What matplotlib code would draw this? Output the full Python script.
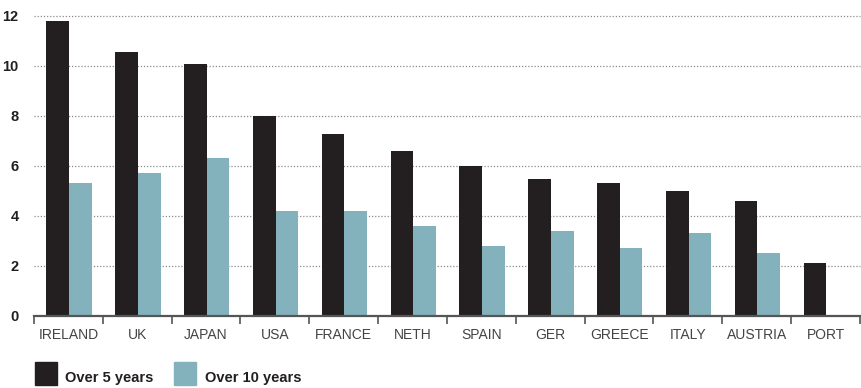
import numpy as np
import matplotlib.pyplot as plt
from matplotlib.patches import Rectangle

countries = ["IRELAND", "UK", "JAPAN", "USA", "FRANCE", "NETH", "SPAIN",
             "GER", "GREECE", "ITALY", "AUSTRIA", "PORT"]
over5 = [11.8, 10.55, 10.05, 8.0, 7.25, 6.6, 6.0, 5.45, 5.3, 5.0, 4.6, 2.1]
over10 = [5.3, 5.7, 6.3, 4.2, 4.2, 3.6, 2.8, 3.4, 2.7, 3.3, 2.5, np.nan]

black = "#231f20"
blue = "#83b1bc"

plt.rcParams["font.family"] = ["Liberation Sans", "DejaVu Sans"]

fig = plt.figure(figsize=(8.62, 3.88), dpi=100)
ax = fig.add_axes([34 / 862, 1 - 315.7 / 388, 826 / 862, 300 / 388])

x = np.arange(len(countries))
w = 0.33
ax.bar(x - w / 2 + 0.01, over5, w, color=black, zorder=3)
ax.bar(x + w / 2 + 0.01, over10, w, color=blue, zorder=3)

ax.set_xlim(-0.5, len(countries) - 0.5)
ax.set_ylim(0, 12)
ax.set_yticks(range(0, 13, 2))
ax.set_yticklabels([str(v) for v in range(0, 13, 2)], fontweight="bold",
                   fontsize=10.5, color=black)
for v in range(2, 13, 2):
    ax.axhline(v, color="#8a8a8a", lw=0.9, ls=(0, (1, 1.5)), zorder=1, clip_on=False)

ax.set_xticks(x)
ax.set_xticklabels(countries, fontsize=10, color="#444444")
ax.set_xticks(np.arange(-0.5, len(countries)), minor=True)
ax.tick_params(axis="x", which="major", length=0, pad=9)
ax.tick_params(axis="x", which="minor", length=6, width=1.2, color="#555555")
ax.tick_params(axis="y", length=0, pad=11)

for s in ["top", "right", "left"]:
    ax.spines[s].set_visible(False)
ax.spines["bottom"].set_color("#555555")
ax.spines["bottom"].set_linewidth(1.6)
ax.spines["bottom"].set_zorder(4)

# legend
for x0, col, label, tx in [(35, black, "Over 5 years", 65), (174, blue, "Over 10 years", 205)]:
    fig.patches.append(Rectangle((x0 / 862, 1 - 385 / 388), 22 / 862, 23 / 388,
                                 transform=fig.transFigure, color=col))
    fig.text(tx / 862, 1 - 385 / 388, label, fontsize=10.5, fontweight="bold",
             color=black, va="bottom", ha="left")

fig.savefig("out.png", dpi=100)
